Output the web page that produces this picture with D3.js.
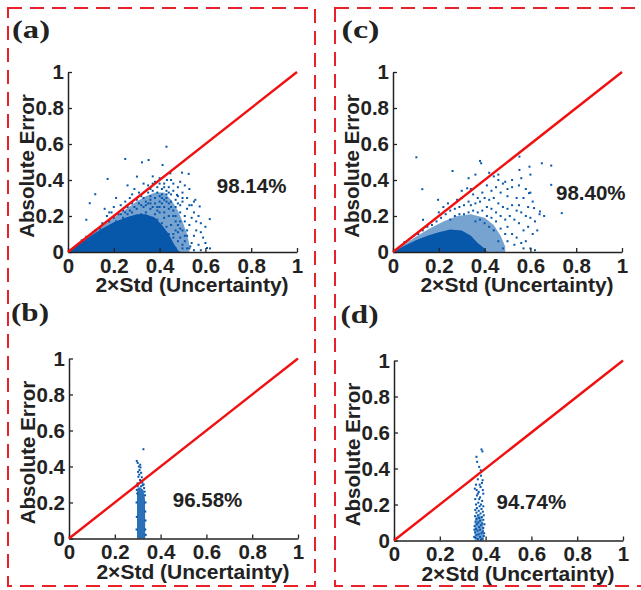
<!DOCTYPE html>
<html><head><meta charset="utf-8">
<script src="https://cdn.jsdelivr.net/npm/d3@7"></script>
<style>body{margin:0;background:#fff}svg{display:block}</style>
</head><body>
<script>
// ---------- DATA ----------
const tickValues = [0, 0.2, 0.4, 0.6, 0.8, 1];
const tickLabels = ["0", "0.2", "0.4", "0.6", "0.8", "1"];
const xLabel = "2×Std (Uncertainty)";
const yLabel = "Absolute Error";
const panelLetters = ["(a)", "(b)", "(c)", "(d)"];
const coverage = ["98.14%", "96.58%", "98.40%", "94.74%"];
const refLine = [[0, 0], [1, 1]];

// dense (solid) region outlines
const aCore = [[0,0],[0.05,0.045],[0.1,0.09],[0.15,0.13],[0.2,0.165],[0.25,0.19],[0.3,0.21],[0.34,0.21],[0.38,0.19],[0.41,0.15],[0.44,0.1],[0.46,0.05],[0.48,0.01],[0.49,0]];
const aMid = [[0,0],[0.12,0.115],[0.2,0.19],[0.26,0.245],[0.3,0.28],[0.34,0.31],[0.38,0.33],[0.42,0.33],[0.45,0.29],[0.48,0.23],[0.5,0.17],[0.52,0.1],[0.53,0.04],[0.53,0]];
const cCore = [[0,0],[0.05,0.035],[0.1,0.065],[0.15,0.09],[0.2,0.11],[0.25,0.125],[0.3,0.12],[0.34,0.09],[0.37,0.05],[0.4,0.02],[0.41,0]];
const cMid = [[0,0],[0.1,0.085],[0.16,0.13],[0.22,0.17],[0.28,0.2],[0.34,0.21],[0.4,0.19],[0.44,0.15],[0.47,0.09],[0.49,0.03],[0.49,0]];
const bCore = [[0.297,0],[0.297,0.26],[0.3,0.28],[0.31,0.285],[0.325,0.27],[0.332,0.22],[0.333,0]];
const dCore = [[0.352,0],[0.352,0.1],[0.358,0.13],[0.372,0.15],[0.386,0.12],[0.392,0.06],[0.392,0]];

// individual scattered points
const aPoints = [[0.43,0.585],[0.25,0.517],[0.352,0.511],[0.323,0.498],[0.413,0.483],[0.173,0.406],[0.498,0.441],[0.527,0.434],[0.119,0.321],[0.095,0.271],[0.08,0.179],[0.619,0.183],[0.575,0.253],[0.476,0.317],[0.556,0.29],[0.607,0.022],[0.534,0.031],[0.301,0.419],[0.432,0.4],[0.447,0.437],[0.21,0.3],[0.16,0.24],[0.26,0.37],[0.29,0.35],[0.33,0.38],[0.37,0.42],[0.4,0.41],[0.42,0.38],[0.44,0.36],[0.46,0.38],[0.48,0.36],[0.5,0.33],[0.52,0.3],[0.53,0.26],[0.55,0.22],[0.57,0.2],[0.58,0.16],[0.56,0.12],[0.59,0.08],[0.6,0.05],[0.57,0.04],[0.55,0.09],[0.53,0.15],[0.51,0.2],[0.49,0.26],[0.47,0.29],[0.45,0.32],[0.43,0.34],[0.41,0.35],[0.39,0.36],[0.36,0.35],[0.34,0.34],[0.32,0.31],[0.3,0.29],[0.28,0.27],[0.26,0.25],[0.24,0.23],[0.22,0.21],[0.2,0.19],[0.18,0.17],[0.1,0.1],[0.12,0.12],[0.06,0.065],[0.08,0.085],[0.15,0.16],[0.17,0.2],[0.19,0.22],[0.23,0.26],[0.25,0.28],[0.27,0.3],[0.31,0.33],[0.35,0.37],[0.37,0.38],[0.39,0.33],[0.41,0.32],[0.43,0.3],[0.45,0.28],[0.47,0.25],[0.49,0.22],[0.51,0.17],[0.5,0.12],[0.52,0.09],[0.54,0.05],[0.5,0.02],[0.48,0.06],[0.46,0.1],[0.48,0.15],[0.44,0.2],[0.42,0.25],[0.4,0.28],[0.38,0.3],[0.36,0.27],[0.34,0.28],[0.32,0.26],[0.3,0.24],[0.28,0.22],[0.26,0.21],[0.46,0.2],[0.5,0.28],[0.54,0.19],[0.56,0.17],[0.58,0.11],[0.62,0.02],[0.6,0.14],[0.53,0.35],[0.51,0.37],[0.49,0.39],[0.45,0.4],[0.36,0.24],[0.4,0.22],[0.44,0.24],[0.42,0.19],[0.38,0.21],[0.47,0.02],[0.45,0.05],[0.52,0.12],[0.33,0.3],[0.35,0.33],[0.37,0.34],[0.39,0.25],[0.41,0.27],[0.43,0.28],[0.4,0.38],[0.38,0.39],[0.42,0.36],[0.44,0.33],[0.46,0.34],[0.48,0.31],[0.5,0.3],[0.52,0.24],[0.54,0.26],[0.55,0.28],[0.49,0.08],[0.51,0.06],[0.53,0.02],[0.55,0.01],[0.58,0.01],[0.47,0.12],[0.49,0.17],[0.47,0.2],[0.45,0.15],[0.44,0.1],[0.43,0.14],[0.41,0.16],[0.39,0.18],[0.37,0.19],[0.34,0.22],[0.32,0.21],[0.3,0.2],[0.27,0.19],[0.24,0.19],[0.21,0.17],[0.14,0.13],[0.11,0.11],[0.2,0.25],[0.18,0.22],[0.28,0.32],[0.36,0.31],[0.4,0.31],[0.42,0.29],[0.38,0.27],[0.36,0.29],[0.34,0.26],[0.46,0.23],[0.48,0.27],[0.44,0.27],[0.42,0.22],[0.4,0.25],[0.31,0.27],[0.33,0.25],[0.35,0.27],[0.37,0.25],[0.39,0.23],[0.29,0.25],[0.27,0.23],[0.25,0.22],[0.23,0.21],[0.41,0.3],[0.43,0.32],[0.45,0.25],[0.47,0.17],[0.49,0.13],[0.51,0.09],[0.5,0.04],[0.52,0.02],[0.46,0.08],[0.48,0.11]];

const bPoints = [[0.325,0.496],[0.296,0.431],[0.3,0.42],[0.308,0.38],[0.315,0.365],[0.303,0.343],[0.31,0.325],[0.299,0.306],[0.322,0.296],[0.318,0.34],[0.305,0.4],[0.312,0.395],[0.32,0.31],[0.326,0.3],[0.3,0.29],[0.315,0.29],[0.328,0.28],[0.33,0.26],[0.332,0.24],[0.296,0.27],[0.298,0.25],[0.334,0.2],[0.333,0.15],[0.334,0.1],[0.333,0.05],[0.335,0.02],[0.295,0.2],[0.296,0.12],[0.295,0.05],[0.316,0.32],[0.307,0.355],[0.302,0.37],[0.311,0.41]];

const cPoints = [[0.102,0.526],[0.38,0.506],[0.385,0.493],[0.552,0.53],[0.65,0.493],[0.691,0.48],[0.691,0.373],[0.596,0.474],[0.552,0.456],[0.737,0.216],[0.642,0.225],[0.616,0.244],[0.594,0.327],[0.6,0.33],[0.197,0.29],[0.131,0.179],[0.128,0.349],[0.324,0.354],[0.26,0.45],[0.33,0.41],[0.36,0.43],[0.42,0.44],[0.44,0.42],[0.46,0.43],[0.49,0.39],[0.52,0.36],[0.55,0.37],[0.58,0.35],[0.57,0.3],[0.54,0.3],[0.5,0.31],[0.47,0.33],[0.45,0.36],[0.43,0.34],[0.41,0.37],[0.39,0.33],[0.37,0.3],[0.35,0.32],[0.33,0.28],[0.31,0.26],[0.29,0.25],[0.27,0.24],[0.25,0.23],[0.23,0.21],[0.21,0.19],[0.19,0.17],[0.17,0.15],[0.15,0.14],[0.13,0.12],[0.11,0.1],[0.09,0.09],[0.07,0.07],[0.05,0.055],[0.2,0.22],[0.24,0.27],[0.28,0.29],[0.3,0.3],[0.34,0.26],[0.36,0.27],[0.38,0.28],[0.4,0.3],[0.42,0.29],[0.44,0.3],[0.46,0.27],[0.48,0.25],[0.5,0.24],[0.52,0.26],[0.54,0.23],[0.56,0.22],[0.58,0.2],[0.6,0.19],[0.62,0.17],[0.64,0.21],[0.66,0.2],[0.63,0.12],[0.61,0.1],[0.59,0.14],[0.57,0.12],[0.55,0.16],[0.53,0.18],[0.51,0.2],[0.49,0.18],[0.47,0.2],[0.45,0.22],[0.43,0.24],[0.41,0.25],[0.39,0.23],[0.37,0.22],[0.35,0.23],[0.33,0.22],[0.31,0.21],[0.29,0.21],[0.27,0.2],[0.25,0.18],[0.5,0.14],[0.52,0.1],[0.54,0.08],[0.56,0.05],[0.58,0.06],[0.6,0.02],[0.62,0.01],[0.57,0.02],[0.53,0.04],[0.5,0.06],[0.49,0.1],[0.47,0.13],[0.45,0.17],[0.43,0.19],[0.41,0.2],[0.44,0.12],[0.46,0.06],[0.48,0.02],[0.42,0.14],[0.4,0.16],[0.38,0.18],[0.36,0.17],[0.55,0.26],[0.61,0.28],[0.59,0.25],[0.5,0.35],[0.48,0.38],[0.46,0.4],[0.52,0.4],[0.56,0.41],[0.6,0.43],[0.34,0.35],[0.22,0.25],[0.3,0.34]];

const dPoints = [[0.382,0.506],[0.386,0.495],[0.36,0.465],[0.363,0.437],[0.372,0.409],[0.387,0.335],[0.378,0.297],[0.353,0.288],[0.38,0.36],[0.384,0.32],[0.358,0.31],[0.37,0.27],[0.39,0.26],[0.362,0.25],[0.376,0.24],[0.355,0.23],[0.385,0.22],[0.368,0.21],[0.358,0.2],[0.39,0.19],[0.374,0.19],[0.362,0.18],[0.382,0.175],[0.355,0.17],[0.37,0.165],[0.388,0.16],[0.36,0.155],[0.378,0.15],[0.366,0.14],[0.392,0.14],[0.354,0.135],[0.384,0.13],[0.372,0.125],[0.36,0.12],[0.39,0.115],[0.376,0.11],[0.356,0.105],[0.368,0.1],[0.386,0.095],[0.362,0.09],[0.38,0.085],[0.352,0.08],[0.372,0.075],[0.39,0.07],[0.358,0.065],[0.376,0.06],[0.365,0.055],[0.388,0.05],[0.354,0.045],[0.382,0.04],[0.37,0.035],[0.36,0.03],[0.392,0.025],[0.376,0.02],[0.356,0.015],[0.386,0.01],[0.366,0.008],[0.38,0.005],[0.395,0.09],[0.394,0.04],[0.35,0.02],[0.351,0.06],[0.38,0.2],[0.372,0.23],[0.366,0.26],[0.388,0.28],[0.361,0.28],[0.374,0.31],[0.366,0.34],[0.379,0.39]];

// ---------- LAYOUT ----------
const W = 641, H = 590;
const svg = d3.select("body").append("svg").attr("width", W).attr("height", H);
const FONT = "'Liberation Sans', Arial, sans-serif";
const TXT = "#222222";
const BLUE = "#0757ab";

// dashed frames
[[8, 8, 307, 578], [335, 8, 320, 578]].forEach(([x, y, w, h]) => {
  svg.append("rect").attr("x", x).attr("y", y).attr("width", w).attr("height", h)
    .attr("fill", "none").attr("stroke", "#e8222a").attr("stroke-width", 2)
    .attr("stroke-dasharray", "14,8");
});

const panels = [
  {left: 68, top: 72, letterX: 12, letterY: 37.5, core: aCore, coreOp: 1, mid: aMid, pts: aPoints, label: coverage[0], letter: panelLetters[0], px: 0.65, py: 0.37},
  {left: 69, top: 358.5, letterX: 11, letterY: 321, core: bCore, coreOp: 0.85, mid: null, pts: bPoints, label: coverage[1], letter: panelLetters[1], px: 0.453, py: 0.214},
  {left: 393, top: 72, letterX: 341.5, letterY: 37.5, core: cCore, coreOp: 1, mid: cMid, pts: cPoints, label: coverage[2], letter: panelLetters[2], px: 0.712, py: 0.328},
  {left: 394, top: 360.5, letterX: 340.5, letterY: 323, core: dCore, coreOp: 0.55, mid: null, pts: dPoints, label: coverage[3], letter: panelLetters[3], px: 0.448, py: 0.216}
];
const PW = 229, PH = 180;

panels.forEach(p => {
  const g = svg.append("g").attr("transform", `translate(${p.left},${p.top})`);
  const x = d3.scaleLinear().domain([0, 1]).range([0, PW]);
  const y = d3.scaleLinear().domain([0, 1]).range([PH, 0]);
  const area = d3.line().x(d => x(d[0])).y(d => y(d[1]));

  if (p.mid) g.append("path").attr("d", area(p.mid) + "Z").attr("fill", BLUE).attr("fill-opacity", 0.55);
  g.append("path").attr("d", area(p.core) + "Z").attr("fill", BLUE).attr("fill-opacity", p.coreOp);
  g.selectAll("rect.pt").data(p.pts).join("rect").attr("class", "pt")
    .attr("x", d => x(d[0]) - 1).attr("y", d => y(d[1]) - 1)
    .attr("width", 2).attr("height", 2).attr("fill", BLUE);

  // axes
  const xAxis = d3.axisBottom(x).tickValues(tickValues).tickSizeInner(-4).tickSizeOuter(0)
    .tickPadding(6).tickFormat((d, i) => tickLabels[i]);
  const yAxis = d3.axisLeft(y).tickValues(tickValues).tickSizeInner(-4).tickSizeOuter(0)
    .tickPadding(4).tickFormat((d, i) => tickLabels[i]);
  const gx = g.append("g").attr("transform", `translate(0,${PH})`).call(xAxis);
  const gy = g.append("g").call(yAxis);
  [gx, gy].forEach(a => {
    a.select(".domain").attr("stroke", TXT).attr("stroke-width", 1.5);
    a.selectAll(".tick line").attr("stroke", TXT).attr("stroke-width", 1.3);
    a.selectAll(".tick text").attr("fill", TXT).style("font-family", FONT)
      .style("font-weight", "bold").style("font-size", "20.5px");
  });
  gx.selectAll(".tick text").attr("dy", "0.71em");

  // reference line
  g.append("path").attr("d", d3.line().x(d => x(d[0])).y(d => y(d[1]))(refLine))
    .attr("stroke", "#f01010").attr("stroke-width", 2.4).attr("fill", "none");

  // labels
  g.append("text").attr("x", 124).attr("y", PH + 40).attr("text-anchor", "middle")
    .style("font-family", FONT).style("font-weight", "bold").style("font-size", "21px")
    .attr("fill", TXT).text(xLabel);
  g.append("text").attr("transform", `translate(-34,94) rotate(-90)`).attr("text-anchor", "middle")
    .style("font-family", FONT).style("font-weight", "bold").style("font-size", "20.5px")
    .attr("fill", TXT).text(yLabel);
  g.append("text").attr("x", x(p.px)).attr("y", y(p.py)).attr("dy", "0.35em")
    .style("font-family", FONT).style("font-weight", "bold").style("font-size", "20.5px")
    .attr("fill", TXT).text(p.label);

  svg.append("text").attr("x", p.letterX).attr("y", p.letterY)
    .attr("textLength", 38).attr("lengthAdjust", "spacingAndGlyphs")
    .style("font-family", "'Liberation Serif', 'Times New Roman', serif").style("font-weight", "bold")
    .style("font-size", "25px").attr("fill", TXT).text(p.letter);
});
</script>
</body></html>
